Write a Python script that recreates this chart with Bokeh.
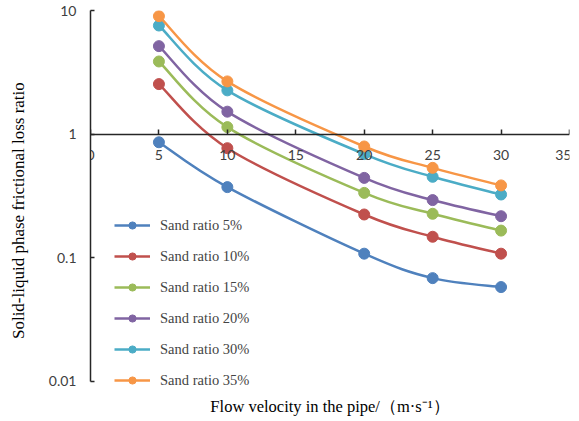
import numpy as np
from bokeh.plotting import figure
from bokeh.models import FixedTicker, Title, Legend, LegendItem
from bokeh.embed import file_html
from bokeh.resources import INLINE

velocity = [5, 10, 20, 25, 30]
ratio_5 = [0.86, 0.373, 0.108, 0.0685, 0.058]
ratio_10 = [2.54, 0.77, 0.224, 0.148, 0.108]
ratio_15 = [3.87, 1.14, 0.335, 0.227, 0.166]
ratio_20 = [5.15, 1.52, 0.443, 0.293, 0.217]
ratio_30 = [7.56, 2.26, 0.69, 0.452, 0.325]
ratio_35 = [9.0, 2.67, 0.795, 0.534, 0.385]

series_names = ["Sand ratio 5%", "Sand ratio 10%", "Sand ratio 15%",
                "Sand ratio 20%", "Sand ratio 30%", "Sand ratio 35%"]
series_values = [ratio_5, ratio_10, ratio_15, ratio_20, ratio_30, ratio_35]
colors = ["#4F81BD", "#C0504D", "#9BBB59", "#8064A2", "#4BACC6", "#F79646"]

x_ticks = [0, 5, 10, 15, 20, 25, 30, 35]
y_ticks = [0.01, 0.1, 1, 10]
y_tick_labels = ["0.01", "0.1", "1", "10"]

p = figure(frame_width=479, frame_height=379, y_axis_type="log",
           x_range=(0, 35), y_range=(0.00861, 10),
           output_backend="svg", toolbar_location=None,
           min_border_left=90, min_border_right=2, min_border_top=10, min_border_bottom=5)
p.outline_line_color = None
p.background_fill_color = "white"
p.border_fill_color = "white"
p.grid.visible = False

tick_font = "Lato"
axis_color = "#262626"

xa = p.xaxis[0]
xa.fixed_location = 1
xa.ticker = FixedTicker(ticks=x_ticks)
xa.major_tick_in = 5
xa.major_tick_out = 0
xa.minor_tick_line_color = None
xa.axis_line_color = axis_color
xa.axis_line_width = 1.5
xa.major_tick_line_color = axis_color
xa.major_tick_line_width = 1.5
xa.major_label_standoff = 16
xa.major_label_text_font = tick_font
xa.major_label_text_font_size = "14px"
xa.major_label_text_color = "#404040"

ya = p.yaxis[0]
ya.bounds = (0.01, 10)
ya.ticker = FixedTicker(ticks=y_ticks)
ya.major_label_overrides = {t: l for t, l in zip(y_ticks, y_tick_labels)}
ya.major_tick_in = 4
ya.major_tick_out = 0
ya.minor_tick_line_color = None
ya.axis_line_color = axis_color
ya.axis_line_width = 1.5
ya.major_tick_line_color = axis_color
ya.major_tick_line_width = 1.5
ya.major_label_standoff = 14
ya.major_label_text_font = tick_font
ya.major_label_text_font_size = "14px"
ya.major_label_text_color = "#404040"
ya.axis_label = "Solid-liquid phase frictional loss ratio" + "\u00a0" * 5
ya.axis_label_text_font = "Liberation Serif"
ya.axis_label_text_font_size = "17px"
ya.axis_label_text_font_style = "normal"
ya.axis_label_text_color = "#000000"
ya.axis_label_standoff = 18

p.add_layout(Title(text="Flow velocity in the pipe/（m·s⁻¹）", align="center",
                   text_font="Liberation Serif", text_font_size="16.5px",
                   text_font_style="normal", text_color="#000000"), "below")

items = []
xs = np.array(velocity, dtype=float)
for name, vals, col in zip(series_names, series_values, colors):
    ly = np.log10(np.array(vals, dtype=float))
    n = len(xs)
    px = np.concatenate([[xs[0]], xs, [xs[-1]]])
    py = np.concatenate([[ly[0]], ly, [ly[-1]]])
    x0, y0, x1, y1, cx0, cy0, cx1, cy1 = [], [], [], [], [], [], [], []
    for i in range(n - 1):
        a, b, c, d = i, i + 1, i + 2, i + 3
        x0.append(px[b]); y0.append(10 ** py[b])
        x1.append(px[c]); y1.append(10 ** py[c])
        cx0.append(px[b] + (px[c] - px[a]) / 6); cy0.append(10 ** (py[b] + (py[c] - py[a]) / 6))
        cx1.append(px[c] - (px[d] - px[b]) / 6); cy1.append(10 ** (py[c] - (py[d] - py[b]) / 6))
    rb = p.bezier(x0=x0, y0=y0, x1=x1, y1=y1, cx0=cx0, cy0=cy0, cx1=cx1, cy1=cy1,
                  line_color=col, line_width=2.5)
    rs = p.scatter(velocity, vals, size=11, fill_color=col, line_color=col)
    items.append(LegendItem(label=name, renderers=[rb, rs]))

legend = Legend(items=items, location=(24, 0), background_fill_alpha=0,
                border_line_color=None, label_text_font="Liberation Serif",
                label_text_font_size="14.5px", glyph_width=36, glyph_height=18,
                label_height=18, spacing=13, label_standoff=10, padding=0, margin=0)
p.add_layout(legend, "center")

open("out.html", "w").write(file_html(p, INLINE))
